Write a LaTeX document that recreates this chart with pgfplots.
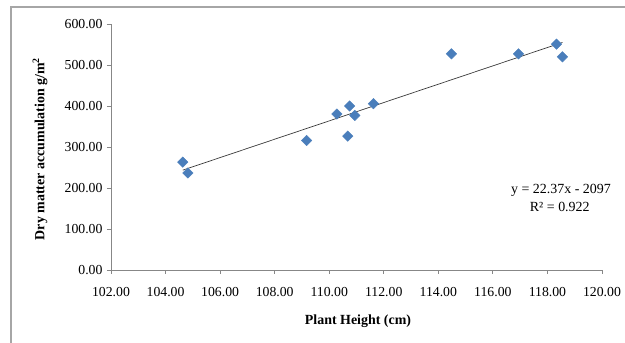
\documentclass[border=0pt]{standalone}
\usepackage{fontspec}
\setmainfont{Liberation Serif}
\usepackage{pgfplots}
\pgfplotsset{compat=1.18}
\definecolor{markerblue}{HTML}{4A7EBB}
\definecolor{axisgray}{HTML}{878787}
\definecolor{framegray}{HTML}{A6A6A6}
\definecolor{trendgray}{HTML}{3A3A3A}
\begin{document}
\begin{tikzpicture}
\path[use as bounding box] (0,0) rectangle (625bp,343bp);
\draw[framegray, line width=1.6bp] (11bp,0) -- (11bp,336bp) -- (625bp,336bp);
\begin{axis}[
  at={(111bp,73bp)}, anchor=south west,
  scale only axis, width=491bp, height=246bp,
  xmin=102, xmax=120, ymin=0, ymax=600,
  xtick={102,104,...,120}, ytick={0,100,...,600},
  axis lines*=left,
  axis line style={axisgray, line width=0.8bp},
  tick style={axisgray, line width=0.8bp},
  tick align=outside, major tick length=4bp,
  /pgf/number format/assume math mode=true,
  /pgf/number format/.cd, fixed, fixed zerofill, precision=2, 1000 sep={},
  /pgfplots/.cd,
  ticklabel style={font=\fontsize{13.8}{16}\selectfont},
  xticklabel style={yshift=-10bp},
  yticklabel style={xshift=-1bp},
  xlabel={\textbf{Plant Height (cm)}},
  ylabel={\textbf{Dry matter accumulation g/m\textsuperscript{2}}},
  label style={font=\fontsize{14}{16}\selectfont},
  xlabel style={at={(axis description cs:0.503,-0.207)}, anchor=center},
  ylabel style={at={(axis description cs:-0.1446,0.492)}, anchor=center},
  clip=false,
]
\addplot[only marks, mark=square*, mark size=3.7bp,
  mark options={rotate=45, fill=markerblue, draw=markerblue}] coordinates {
  (104.63,262.9) (104.82,236.7) (109.17,315.9) (110.28,380.4)
  (110.75,400.0) (110.68,326.5) (110.94,377.1) (111.62,405.7)
  (114.48,527.3) (116.94,527.3) (118.33,551.0) (118.55,520.0)
};
\addplot[trendgray, line width=0.7bp] coordinates {(104.63,243.57) (118.55,554.96)};
\node[font=\fontsize{14}{16}\selectfont, anchor=center] at (axis description cs:0.9165,0.325) {y = 22.37x - 2097};
\node[font=\fontsize{14}{16}\selectfont, anchor=center] at (axis description cs:0.914,0.256) {R² = 0.922};
\end{axis}
\end{tikzpicture}
\end{document}
